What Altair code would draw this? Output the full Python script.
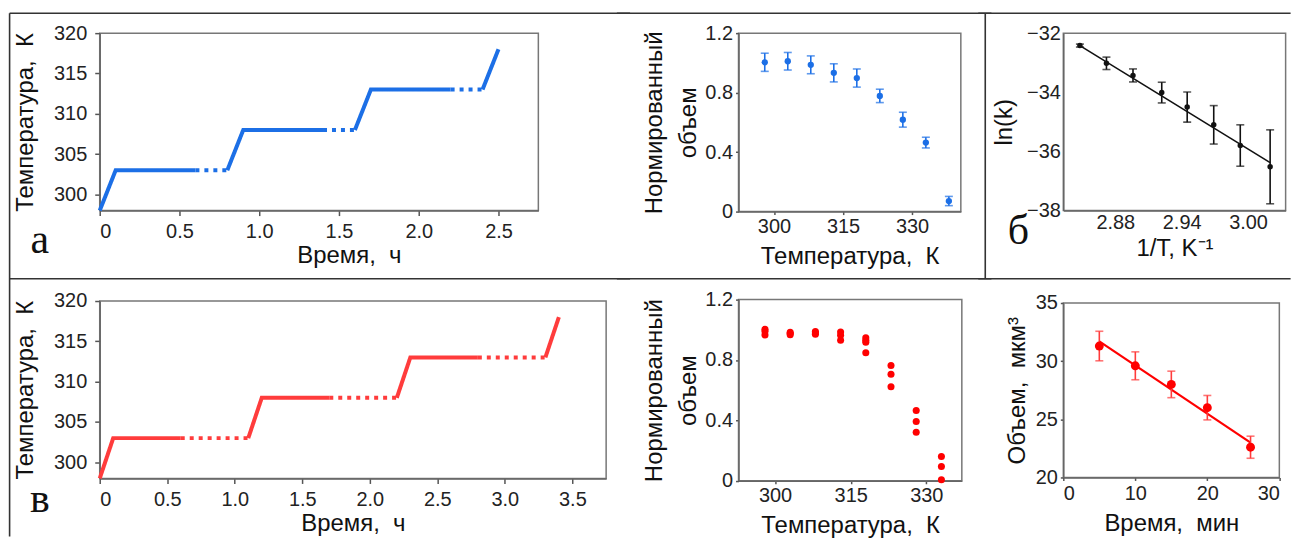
import altair as alt
import pandas as pd

# ---------------- data ----------------
# panel а : temperature protocol (blue)
time_a = [0, 0.1, 0.6, 0.8, 0.9, 1.4, 1.6, 1.7, 2.2, 2.4, 2.5]
temp_a = [298, 303, 303, 303, 308, 308, 308, 313, 313, 313, 318]
style_a = ["solid", "solid", "dot", "solid", "solid", "dot", "solid", "solid", "dot", "solid"]

# panel в : temperature protocol (red)
time_v = [0, 0.1, 0.6, 1.1, 1.2, 1.7, 2.2, 2.3, 2.8, 3.3, 3.4]
temp_v = [298, 303, 303, 303, 308, 308, 308, 313, 313, 313, 318]
style_v = ["solid", "solid", "dot", "solid", "solid", "dot", "solid", "solid", "dot", "solid"]

# top middle : normalised volume vs temperature (blue, with error bars)
T_top = [298, 303, 308, 313, 318, 323, 328, 333, 338]
V_top = [1.004, 1.011, 0.987, 0.933, 0.898, 0.778, 0.618, 0.464, 0.071]
E_top = [0.061, 0.059, 0.060, 0.061, 0.061, 0.045, 0.050, 0.036, 0.031]

# panel б : ln(k) vs 1/T
invT = [2.848, 2.872, 2.896, 2.922, 2.945, 2.969, 2.993, 3.020]
lnk = [-32.42, -33.02, -33.43, -34.01, -34.50, -35.10, -35.80, -36.52]
lnk_err = [0.05, 0.21, 0.22, 0.35, 0.51, 0.65, 0.70, 1.25]
fit_invT = [2.848, 3.020]
fit_lnk = [-32.42, -36.38]

# bottom middle : normalised volume vs temperature (red, replicates)
T_bot = [298, 298, 298, 303, 303, 303, 308, 308, 308, 313, 313, 313,
         318, 318, 318, 318, 323, 323, 323, 328, 328, 328, 333, 333, 333]
V_bot = [1.003, 0.990, 0.966, 0.984, 0.975, 0.968, 0.988, 0.978, 0.971,
         0.986, 0.964, 0.931, 0.947, 0.931, 0.918, 0.848, 0.764, 0.705, 0.623,
         0.465, 0.392, 0.321, 0.161, 0.095, 0.007]

# bottom right : volume vs time
t_min = [5, 10, 15, 20, 26]
vol = [31.3, 29.6, 28.0, 26.0, 22.6]
vol_err = [1.27, 1.20, 1.14, 1.05, 0.95]
fit_t = [5, 26]
fit_vol = [31.7, 23.0]

# ---------------- styling ----------------
BLUE = "#1c6fe6"
RED_LINE = "#ff3c3c"
RED = "#ff0000"
BLACK = "#111111"
FRAME = "#333333"
SANS = "Liberation Sans"
SW = 1.6                  # width of the figure frame lines
OVER = 7                  # overlap of frame-line pieces between columns
JOIN = -2 * OVER - 2 * SW  # spacing between columns


def step_df(ts, temps, styles):
    rows = []
    run = 0
    for i, s in enumerate(styles):
        if i > 0 and s != styles[i - 1]:
            run += 1
        for j in (i, i + 1):
            rows.append({"t": ts[j], "T": temps[j], "run": run, "kind": s})
    return pd.DataFrame(rows)


def err_df(x, y, e):
    return pd.DataFrame({"x": x, "y": y,
                         "lo": [a - b for a, b in zip(y, e)],
                         "hi": [a + b for a, b in zip(y, e)]})


deco = pd.DataFrame({"k": [0]})


def hrule(y, x1, x2):
    return alt.Chart(deco).mark_rule(color=FRAME, strokeWidth=SW).encode(
        x=alt.value(x1), x2=alt.value(x2), y=alt.value(y))


def vrule(x, y1, y2):
    return alt.Chart(deco).mark_rule(color=FRAME, strokeWidth=SW).encode(
        x=alt.value(x), y=alt.value(y1), y2=alt.value(y2))


def letter(ch, x, y):
    return alt.Chart(deco).mark_text(font="Liberation Serif", fontSize=42, color=BLACK,
                                     align="center", baseline="alphabetic", text=ch).encode(
        x=alt.value(x), y=alt.value(y))


one_dec = "datum.value == 0 ? '0' : format(datum.value, '.1f')"
dash = alt.StrokeDash("kind:N", scale=alt.Scale(domain=["solid", "dot"], range=[[1, 0], [4, 5]]),
                      legend=None)


def step_line(ts, temps, styles, color, xmax, xvals, title_x=None):
    df = step_df(ts, temps, styles)
    xaxis_kw = dict(values=xvals, labelExpr=one_dec, title="Время,\u00a0 ч",
                    tickSize=5, labelPadding=6, titlePadding=2)
    if title_x is not None:
        xaxis_kw["titleX"] = title_x
    x = alt.X("t:Q", scale=alt.Scale(domain=[0, xmax], nice=False, zero=False),
              axis=alt.Axis(**xaxis_kw))
    y = alt.Y("T:Q", scale=alt.Scale(domain=[298, 320], nice=False, zero=False),
              axis=alt.Axis(values=[300, 305, 310, 315, 320], title="Температура,\u00a0 К",
                            tickSize=5, labelPadding=8, titlePadding=16))
    return alt.Chart(df).mark_line(color=color, strokeWidth=4, strokeCap="butt").encode(
        x=x, y=y, detail="run:N", strokeDash=dash)


def errbars(df, x, color, cap=8, w=1.6):
    rule = alt.Chart(df).mark_rule(color=color, strokeWidth=w).encode(
        x=x, y=alt.Y("lo:Q"), y2="hi:Q")
    lo = alt.Chart(df).mark_tick(color=color, orient="horizontal", size=cap, thickness=w).encode(
        x=x, y=alt.Y("lo:Q"))
    hi = alt.Chart(df).mark_tick(color=color, orient="horizontal", size=cap, thickness=w).encode(
        x=x, y=alt.Y("hi:Q"))
    return rule, lo, hi


# column boundaries of the figure frame (page pixels)
B1 = 625.0    # between column 1 and 2
B2 = 986.7    # between column 2 and 3 (also the vertical divider of the top row)
A0 = 100.0    # plot origin x of column 1
M0 = 740.0    # plot origin x of column 2
R0 = 1065.0   # plot origin x of column 3

# ---------- column 1 : а and в (plot origin of а at page 100, 32) ----------
panel_a = alt.layer(
    step_line(time_a, temp_a, style_a, BLUE, 2.75, [0, 0.5, 1, 1.5, 2, 2.5], title_x=250),
    hrule(-20, -90.4, B1 + OVER - A0),
    hrule(246.3, -90.4, B1 + OVER - A0),
    vrule(-90.4, -20, 505),
    letter("а", -60, 221),
).properties(width=440, height=178)

panel_v = alt.layer(
    step_line(time_v, temp_v, style_v, RED_LINE, 3.75, [0, 0.5, 1, 1.5, 2, 2.5, 3, 3.5]),
    letter("в", -60, 212),
).properties(width=508, height=178)


# ---------- column 2 : normalised volume (origin page 740, 32) ----------
def norm_axes(dom):
    x = alt.X("x:Q", scale=alt.Scale(domain=dom, nice=False, zero=False),
              axis=alt.Axis(values=[300, 315, 330], title="Температура,\u00a0 К",
                            tickSize=3, labelPadding=2, titlePadding=8))
    y = alt.Y("y:Q", scale=alt.Scale(domain=[0, 1.2], nice=False, zero=False),
              axis=alt.Axis(values=[0, 0.4, 0.8, 1.2], labelExpr=one_dec,
                            title=["Нормированный", "объем"], titleLineHeight=34,
                            tickSize=3, labelPadding=3, titlePadding=4))
    return x, y


xm1, ym1 = norm_axes([292.3, 340.6])
df_m1 = err_df(T_top, V_top, E_top)
panel_m1 = alt.layer(
    alt.Chart(df_m1).mark_circle(color=BLUE, size=40, opacity=1).encode(x=xm1, y=ym1),
    *errbars(df_m1, xm1, BLUE),
    hrule(-20, B1 - OVER - M0, B2 + OVER - M0),
    hrule(246.3, B1 - OVER - M0, B2 + OVER - M0),
).properties(width=223, height=179)

xm2, ym2 = norm_axes([292.75, 337.05])
df_m2 = pd.DataFrame({"x": T_bot, "y": V_bot})
panel_m2 = alt.Chart(df_m2).mark_circle(color=RED, size=50, opacity=1).encode(
    x=xm2, y=ym2).properties(width=224, height=181.7)

# ---------- column 3 : б and volume vs time (origin page 1065, 32) ----------
xb = alt.X("x:Q", scale=alt.Scale(domain=[2.833, 3.034], nice=False, zero=False),
           axis=alt.Axis(values=[2.88, 2.94, 3.00], format=".2f", title="1/T, K\u207b\u00b9",
                         tickSize=0, labelPadding=2, titlePadding=4))
yb = alt.Y("y:Q", scale=alt.Scale(domain=[-38, -32], nice=False, zero=False),
           axis=alt.Axis(values=[-38, -36, -34, -32], title="ln(k)",
                         tickSize=0, labelPadding=3, titlePadding=10))
df_b = err_df(invT, lnk, lnk_err)
df_bfit = pd.DataFrame({"x": fit_invT, "y": fit_lnk})
panel_b = alt.layer(
    alt.Chart(df_bfit).mark_line(color=BLACK, strokeWidth=1.6).encode(x=xb, y=yb),
    *errbars(df_b, xb, BLACK),
    alt.Chart(df_b).mark_circle(color=BLACK, size=30, opacity=1).encode(x=xb, y=yb),
    hrule(-20, B2 - OVER - R0, 1293 - R0),
    hrule(246.3, B2 - OVER - R0, 1293 - R0),
    vrule(B2 - R0, -20, 246.3),
    letter("б", -45, 212),
).properties(width=223, height=178)

xr = alt.X("x:Q", scale=alt.Scale(domain=[0, 30], nice=False, zero=False),
           axis=alt.Axis(values=[0, 10, 20, 30], title="Время,\u00a0 мин",
                         tickSize=3, labelPadding=3, titlePadding=8))
yr = alt.Y("y:Q", scale=alt.Scale(domain=[20, 35], nice=False, zero=False),
           axis=alt.Axis(values=[20, 25, 30, 35], title="Объем,\u00a0 мкм\u00b3",
                         tickSize=3, labelPadding=3, titlePadding=6))
df_r = err_df(t_min, vol, vol_err)
df_rfit = pd.DataFrame({"x": fit_t, "y": fit_vol})
panel_r = alt.layer(
    alt.Chart(df_rfit).mark_line(color=RED, strokeWidth=2.2).encode(x=xr, y=yr),
    *errbars(df_r, xr, RED_LINE),
    alt.Chart(df_r).mark_circle(color=RED, size=80, opacity=1).encode(x=xr, y=yr),
).properties(width=216.7, height=175)

col1 = alt.vconcat(panel_a, panel_v, spacing=90.7, bounds="flush")
col2 = alt.vconcat(panel_m1, panel_m2, spacing=88.3, bounds="flush")
col3 = alt.vconcat(panel_b, panel_r, spacing=92.7, bounds="flush")

chart = alt.hconcat(col1, col2, col3, spacing=JOIN).properties(
    padding={"left": 0, "top": 2.4, "right": 0, "bottom": 0}
).configure_axis(
    labelFont=SANS, titleFont=SANS, labelFontSize=20, titleFontSize=24,
    titleFontWeight="normal", labelColor="#222222", titleColor="#111111",
    domainColor="#666666", tickColor="#555555", domainWidth=1.5, tickWidth=1.5, grid=False,
).configure_view(stroke="#777777", strokeWidth=1.5)

chart.save("out.html", embed_options={"renderer": "svg", "actions": False})
